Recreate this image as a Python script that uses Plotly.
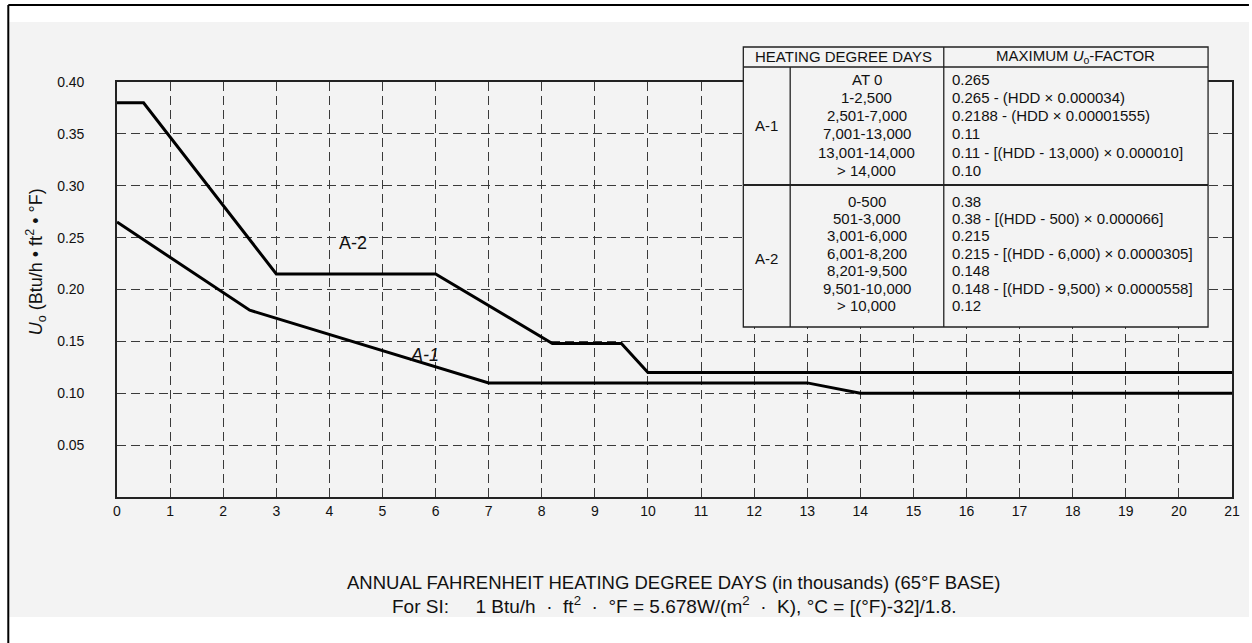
import plotly.graph_objects as go

# ---- data ----
hdd_a1 = [0, 2.5, 7, 13, 14, 21]
u_a1 = [0.265, 0.180, 0.110, 0.110, 0.100, 0.100]
hdd_a2 = [0, 0.5, 3, 6, 8.2, 9.5, 10, 21]
u_a2 = [0.38, 0.38, 0.215, 0.215, 0.148, 0.148, 0.12, 0.12]

x_ticks = list(range(0, 22))
y_ticks = [0.05, 0.10, 0.15, 0.20, 0.25, 0.30, 0.35, 0.40]

a1_hdd = ["AT 0", "1-2,500", "2,501-7,000", "7,001-13,000", "13,001-14,000", "> 14,000"]
a1_formula = ["0.265", "0.265 - (HDD × 0.000034)", "0.2188 - (HDD × 0.00001555)", "0.11",
              "0.11 - [(HDD - 13,000) × 0.000010]", "0.10"]
a2_hdd = ["0-500", "501-3,000", "3,001-6,000", "6,001-8,200", "8,201-9,500", "9,501-10,000", "> 10,000"]
a2_formula = ["0.38", "0.38 - [(HDD - 500) × 0.000066]", "0.215", "0.215 - [(HDD - 6,000) × 0.0000305]",
              "0.148", "0.148 - [(HDD - 9,500) × 0.0000558]", "0.12"]

# ---- layout geometry (pixels) ----
W, H = 1252, 643
L, R, T, B = 117, 17, 82, 146
PW, PH = W - L - R, H - T - B


def px(x):
    return (x - L) / PW


def py(y):
    return (H - B - y) / PH


FONT = "Liberation Sans, Arial, sans-serif"
INK = "#111111"
BG = "#f3f3f3"

fig = go.Figure()
fig.add_trace(go.Scatter(x=hdd_a1, y=u_a1, mode="lines", line=dict(color="#000", width=3),
                         showlegend=False, hoverinfo="skip"))
fig.add_trace(go.Scatter(x=hdd_a2, y=u_a2, mode="lines", line=dict(color="#000", width=3),
                         showlegend=False, hoverinfo="skip"))

shapes = []
annos = []

# scan background and frame
shapes.append(dict(type="rect", xref="paper", yref="paper", x0=px(8), x1=px(W), y0=py(617), y1=py(22),
                   fillcolor=BG, line=dict(width=0), layer="below"))
shapes.append(dict(type="line", xref="paper", yref="paper", x0=px(8), x1=px(W), y0=py(5), y1=py(5),
                   line=dict(color="#000", width=2)))
shapes.append(dict(type="line", xref="paper", yref="paper", x0=px(8), x1=px(8), y0=py(5), y1=py(H),
                   line=dict(color="#000", width=2)))

# table
tx0, tx1, ty0, ty1 = 745, 1211, 47, 327
c1, c2 = 792, 946
hdr, sep = 67, 185
shapes.append(dict(type="rect", xref="paper", yref="paper", x0=px(tx0), x1=px(tx1), y0=py(ty1), y1=py(ty0),
                   fillcolor=BG, line=dict(color="#222", width=1.3)))
for (xa, ya, xb, yb, w) in [(tx0, hdr, tx1, hdr, 1.3), (tx0, sep, tx1, sep, 2.2),
                            (c1, hdr, c1, ty1, 1.3), (c2, ty0, c2, ty1, 1.3)]:
    shapes.append(dict(type="line", xref="paper", yref="paper", x0=px(xa), x1=px(xb), y0=py(ya), y1=py(yb),
                       line=dict(color="#222", width=w)))

tf = dict(family=FONT, size=15, color=INK)
annos.append(dict(x=px((tx0 + c2) / 2), y=py(57), text="HEATING DEGREE DAYS", xanchor="center",
                  yanchor="middle", font=tf))
annos.append(dict(x=px((c2 + tx1) / 2), y=py(57), text="MAXIMUM <i>U</i><sub>o</sub>-FACTOR",
                  xanchor="center", yanchor="middle", font=tf))
annos.append(dict(x=px((tx0 + c1) / 2), y=py(125), text="A-1", xanchor="center", yanchor="middle", font=tf))
annos.append(dict(x=px((tx0 + c1) / 2), y=py(258), text="A-2", xanchor="center", yanchor="middle", font=tf))
for i, (h, f) in enumerate(zip(a1_hdd, a1_formula)):
    yy = 79 + i * 18.3
    annos.append(dict(x=px((c1 + c2) / 2), y=py(yy), text=h, xanchor="center", yanchor="middle", font=tf))
    annos.append(dict(x=px(952), y=py(yy), text=f, xanchor="left", yanchor="middle", font=tf))
for i, (h, f) in enumerate(zip(a2_hdd, a2_formula)):
    yy = 201 + i * 17.4
    annos.append(dict(x=px((c1 + c2) / 2), y=py(yy), text=h, xanchor="center", yanchor="middle", font=tf))
    annos.append(dict(x=px(952), y=py(yy), text=f, xanchor="left", yanchor="middle", font=tf))

# curve labels
annos.append(dict(x=4.45, y=0.245, xref="x", yref="y", text="A-2", showarrow=False,
                  font=dict(family=FONT, size=18, color=INK)))
annos.append(dict(x=5.8, y=0.137, xref="x", yref="y", text="<i>A-1</i>", showarrow=False,
                  font=dict(family=FONT, size=18, color=INK)))

# axis titles
annos.append(dict(x=px(35), y=py(262), text="<i>U</i><sub>o</sub> (Btu/h • ft<sup>2</sup> • °F)",
                  textangle=-90, xanchor="center", yanchor="middle", font=dict(family=FONT, size=18, color=INK)))
annos.append(dict(x=px(675), y=py(582),
                  text="ANNUAL FAHRENHEIT HEATING DEGREE DAYS (in thousands) (65°F BASE)",
                  xanchor="center", yanchor="middle", font=dict(family=FONT, size=18.5, color=INK)))
annos.append(dict(x=px(675), y=py(605),
                  text="For SI:&nbsp;&nbsp;&nbsp;&nbsp; 1 Btu/h &nbsp;·&nbsp; ft<sup>2</sup> &nbsp;·&nbsp; °F = 5.678W/(m<sup>2</sup> &nbsp;·&nbsp; K), °C = [(°F)-32]/1.8.",
                  xanchor="center", yanchor="middle", font=dict(family=FONT, size=19, color=INK)))

for a in annos:
    a.setdefault("xref", "paper")
    a.setdefault("yref", "paper")
    a.setdefault("showarrow", False)

fig.update_layout(
    width=W, height=H,
    margin=dict(l=L, r=R, t=T, b=B),
    paper_bgcolor="white",
    plot_bgcolor="rgba(0,0,0,0)",
    shapes=shapes,
    annotations=annos,
    showlegend=False,
    font=dict(family=FONT, size=14, color=INK),
)
fig.update_xaxes(range=[0, 21], tickvals=x_ticks, ticktext=[str(v) for v in x_ticks],
                 showgrid=True, gridcolor="#3a3a3a", gridwidth=1.3, griddash="9px,5px",
                 showline=True, linecolor="#222", linewidth=1.6, mirror=True,
                 zeroline=False, ticks="", ticklabelstandoff=0,
                 tickfont=dict(family=FONT, size=14, color=INK))
fig.update_yaxes(range=[0, 0.40], tickvals=y_ticks, ticktext=[f"{v:.2f}" for v in y_ticks],
                 showgrid=True, gridcolor="#3a3a3a", gridwidth=1.3, griddash="9px,5px",
                 showline=True, linecolor="#222", linewidth=1.6, mirror=True,
                 zeroline=False, ticks="", ticklabelstandoff=28,
                 tickfont=dict(family=FONT, size=14, color=INK))

fig.write_html("out.html", config={"displayModeBar": False},
               post_script="document.body.style.margin='0';document.body.style.padding='0';")
